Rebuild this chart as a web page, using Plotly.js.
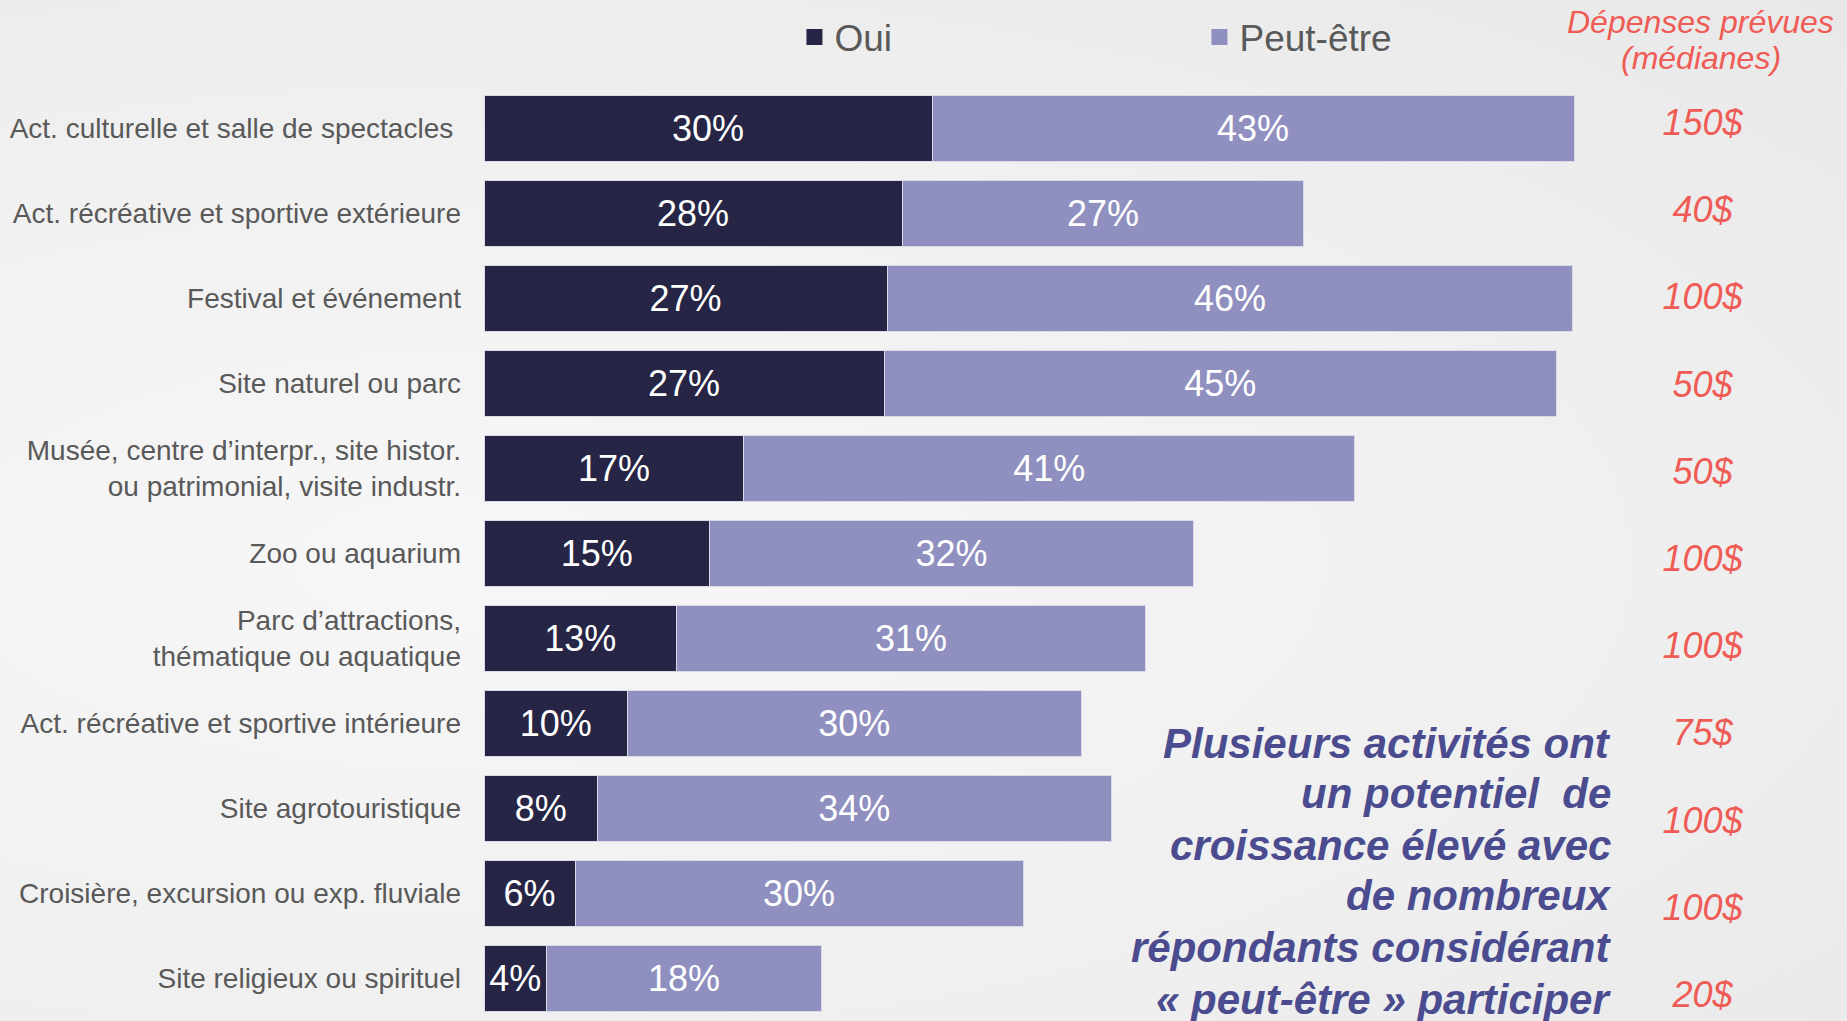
<!DOCTYPE html>
<html>
<head>
<meta charset="utf-8">
<script src="https://cdn.plot.ly/plotly-3.0.1.min.js"></script>
<style>
  body { margin: 0; background: radial-gradient(ellipse at 25% 55%, #f7f7f7 0%, #f0f0f0 55%, #e8e8e8 100%); }
  #plot { width: 1847px; height: 1021px; }
</style>
</head>
<body>
<div id="plot"></div>
<script>
// activities, top to bottom
let activities = [
    "Act. culturelle et salle de spectacles\u00a0",
    "Act. récréative et sportive extérieure",
    "Festival et événement",
    "Site naturel ou parc",
    "Musée, centre d’interpr., site histor.<br>ou patrimonial, visite industr.",
    "Zoo ou aquarium",
    "Parc d’attractions,<br>thématique ou aquatique",
    "Act. récréative et sportive intérieure",
    "Site agrotouristique",
    "Croisière, excursion ou exp. fluviale",
    "Site religieux ou spirituel"
];

// share of respondents (%)
let oui = [30.0, 28.0, 27.0, 26.8, 17.4, 15.1, 12.9, 9.6, 7.6, 6.1, 4.2];
let peutEtre = [43.0, 26.9, 45.9, 45.0, 40.9, 32.4, 31.4, 30.4, 34.4, 30.0, 18.4];

// planned spending (medians)
let depenses = ["150$", "40$", "100$", "50$", "50$", "100$", "100$", "75$", "100$", "100$", "20$"];

// callout, one line per entry
let callout = [
    "Plusieurs activités ont",
    "un potentiel\u00a0 de",
    "croissance élevé avec",
    "de nombreux",
    "répondants considérant",
    "«\u00a0peut-être\u00a0» participer"
];

let font = "Liberation Sans, Arial, sans-serif";
let red = "#EF5B55";
let darkBlue = "#262545";
let lavender = "#9090C0";

function barTrace(values, name, color) {
    return {
        y: activities,
        x: values,
        name: name,
        type: "bar",
        orientation: "h",
        marker: { color: color, line: { color: "#d9d9e8", width: 1 } },
        texttemplate: "%{x:.0f}%",
        textposition: "inside",
        insidetextanchor: "middle",
        textfont: { family: font, size: 36, color: "#ffffff" },
        showlegend: false,
        hoverinfo: "skip"
    };
}

// legend-only entries (bigger squares than the bar swatch)
function legendTrace(name, color) {
    return {
        x: [null],
        y: [null],
        name: name,
        type: "scatter",
        mode: "markers",
        marker: { symbol: "square", size: 19, color: color },
        hoverinfo: "skip"
    };
}

// spending column, on its own overlaid axis
let depTrace = {
    y: activities,
    x: activities.map(() => 81.6),
    yaxis: "y2",
    mode: "text",
    type: "scatter",
    text: depenses,
    textposition: "middle center",
    textfont: { family: font, size: 36, color: red, style: "italic" },
    showlegend: false,
    hoverinfo: "skip"
};

let data = [
    barTrace(oui, "Oui", darkBlue),
    barTrace(peutEtre, "Peut-être", lavender),
    legendTrace("Oui", darkBlue),
    legendTrace("Peut-être", lavender),
    depTrace
];

let annotations = [
    {
        text: "Dépenses prévues",
        xref: "paper", yref: "paper",
        x: 0.9055, y: 1.068,
        xanchor: "center", yanchor: "middle",
        showarrow: false,
        font: { family: font, size: 32, color: red, style: "italic" }
    },
    {
        text: "(médianes)",
        xref: "paper", yref: "paper",
        x: 0.9055, y: 1.030,
        xanchor: "center", yanchor: "middle",
        showarrow: false,
        font: { family: font, size: 32, color: red, style: "italic" }
    }
];

let calloutY = [0.2973, 0.2428, 0.1882, 0.1337, 0.0781, 0.0235];
callout.forEach((line, i) => {
    annotations.push({
        text: "<b><i>" + line + "</i></b>",
        xref: "paper", yref: "paper",
        x: 0.840, y: calloutY[i],
        xanchor: "right", yanchor: "middle",
        align: "right",
        showarrow: false,
        font: { family: font, size: 42, color: "#4B4C8F" }
    });
});

let layout = {
    width: 1847,
    height: 1021,
    barmode: "stack",
    bargap: 0.224,
    paper_bgcolor: "rgba(0,0,0,0)",
    plot_bgcolor: "rgba(0,0,0,0)",
    margin: { l: 484, r: 19, t: 86, b: 0 },
    font: { family: font, color: "#595959" },
    xaxis: {
        range: [0, 90],
        showgrid: false,
        zeroline: false,
        showticklabels: false,
        fixedrange: true
    },
    yaxis: {
        type: "category",
        range: [10.5, -0.5],
        showgrid: false,
        zeroline: false,
        ticks: "",
        ticklabelstandoff: 22,
        tickfont: { family: font, size: 28, color: "#595959" },
        automargin: false
    },
    yaxis2: {
        type: "category",
        overlaying: "y",
        categoryarray: activities,
        range: [10.263, -0.457],
        showgrid: false,
        zeroline: false,
        showticklabels: false,
        ticks: ""
    },
    showlegend: true,
    legend: {
        orientation: "h",
        x: 0.231,
        xanchor: "left",
        y: 1.052,
        yanchor: "middle",
        entrywidth: 360,
        itemsizing: "trace",
        font: { family: font, size: 37, color: "#595959" },
        bgcolor: "rgba(0,0,0,0)",
        traceorder: "normal"
    },
    annotations: annotations
};

Plotly.newPlot("plot", data, layout, { displayModeBar: false, staticPlot: true });
</script>
</body>
</html>
